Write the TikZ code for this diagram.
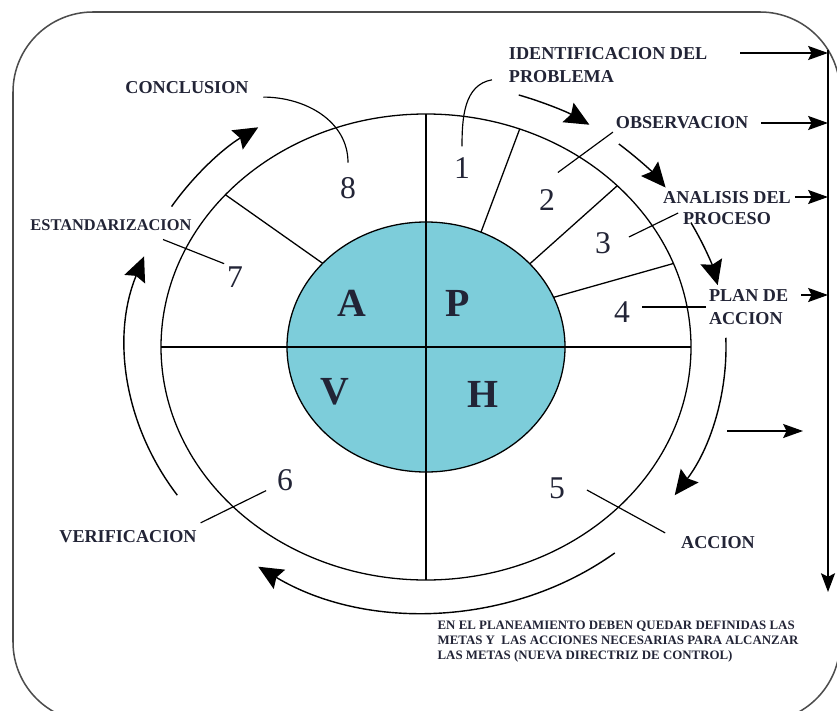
\documentclass[tikz,border=0pt]{standalone}
\usepackage{fontspec}
\setmainfont{Liberation Serif}
\usepackage{tikz}
\usetikzlibrary{arrows.meta,calc}

\definecolor{ink}{RGB}{34,36,54}
\definecolor{discfill}{RGB}{125,205,218}

\begin{document}
\begin{tikzpicture}[x=0.3mm,y=0.3mm,line width=1.1pt,
  lbl/.style={font=\bfseries\fontsize{15.5}{20}\selectfont,text=ink,inner sep=2pt},
  num/.style={font=\fontsize{27}{30}\selectfont,text=ink,inner sep=2pt},
  quad/.style={font=\bfseries\fontsize{34}{36}\selectfont,text=ink},
  leader/.style={line width=1pt},
  cyc/.style={line width=1.2pt,-{Stealth[length=21pt,width=19pt,inset=3pt]}},
  harrow/.style={line width=1.2pt,-{Stealth[length=17pt,width=12pt,inset=3pt]}},
  vdown/.style={line width=1.2pt,-{Stealth[length=16pt,width=12pt,inset=3pt]}}]

\useasboundingbox (0,0) rectangle (837,710);

% Frame
\draw[black!70,line width=1.3pt,rounded corners=24mm] (13,-12) rectangle (840,698);

% Wheel centre
\coordinate (C) at (426,363);

% Inner disc
\fill[discfill] (C) ellipse [x radius=139,y radius=125];

% Outer ring and cross
\draw (C) ellipse [x radius=265,y radius=233];
\draw ($(C)+(0,233)$) -- ($(C)+(0,-233)$);
\draw ($(C)+(-265,0)$) -- ($(C)+(265,0)$);
\draw (C) ellipse [x radius=139,y radius=125];

% Spokes
\draw ($(C)+(66.7:139 and 125)$) -- ($(C)+(69.3:265 and 233)$);
\draw ($(C)+(41.7:139 and 125)$) -- ($(C)+(43.8:265 and 233)$);
\draw ($(C)+(23.4:139 and 125)$) -- ($(C)+(21:265 and 233)$);
\draw ($(C)+(138:139 and 125)$) -- ($(C)+(139.2:265 and 233)$);

% Quadrant letters
\node[quad] (qa) at (352,407) {A};
\node[quad] (qp) at (458,407) {P};
\node[quad] (qv) at (335,318) {V};
\node[quad] (qh) at (483,316) {H};

% Step numbers
\node[num] (n1) at (462,542) {1};
\node[num] (n2) at (547,510) {2};
\node[num] (n3) at (603,467) {3};
\node[num] (n4) at (622,398) {4};
\node[num] (n5) at (557,222) {5};
\node[num] (n6) at (285,230) {6};
\node[num] (n7) at (235,433) {7};
\node[num] (n8) at (348,522) {8};

% Step labels
\node[lbl] (conclusion) at (187,622) {CONCLUSION};
\node[lbl,font=\bfseries\fontsize{14}{18}\selectfont] (estand) at (111,485) {ESTANDARIZACION};
\node[lbl,anchor=west,align=left] (ident) at (506,645) {IDENTIFICACION DEL\\PROBLEMA};
\node[lbl] (obs) at (682,587) {OBSERVACION};
\node[lbl,align=center,font=\bfseries\fontsize{15.5}{18.5}\selectfont] (analisis) at (727,502) {ANALISIS DEL\\PROCESO};
\node[lbl,anchor=west,align=left] (plan) at (706,403) {PLAN DE\\ACCION};
\node[lbl] (accion) at (718,167) {ACCION};
\node[lbl] (verif) at (128,173) {VERIFICACION};
\node[anchor=north west,align=left,inner sep=0pt,text=ink,
  font=\bfseries\fontsize{11}{12.8}\selectfont] (nota) at (437,90)
  {EN EL PLANEAMIENTO DEBEN QUEDAR DEFINIDAS LAS\\
   METAS Y\ \ LAS ACCIONES NECESARIAS PARA ALCANZAR\\
   LAS METAS (NUEVA DIRECTRIZ DE CONTROL)};

% Leaders
\draw[leader] ([xshift=10]conclusion.south east) to[out=0,in=90] ([yshift=10]n8.north);
\draw[leader] ($(ident.south west)+(-14,6)$) to[out=190,in=90] ([yshift=7]n1.north);
\draw[leader] (obs.south west) -- ([yshift=12]n2.north east);
\draw[leader] ($(analisis.west)+(18,-5)$) -- ($(n3.east)+(15,6)$);
\draw[leader,shorten >=8pt] (plan.west) -- (plan.west -| n4.east);
\draw[leader] ($(estand.south)+(52,-6)$) -- (n7.north west);
\draw[leader] ($(verif.north east)+(1,5)$) -- ($(n6.south west)+(-8,3)$);
\draw[leader] ($(n5.east)+(19,-2)$) -- ($(accion.north west)+(-13,1)$);

% Cycle arrows
\draw[cyc] ($(C)+(148:300 and 265)$) arc[start angle=148,end angle=124,x radius=300,y radius=265];
\draw[cyc] ($(C)+(72:300 and 265)$) arc[start angle=72,end angle=57,x radius=300,y radius=265];
\draw[cyc] ($(C)+(50:300 and 265)$) arc[start angle=50,end angle=37,x radius=300,y radius=265];
\draw[cyc] ($(C)+(28:300 and 265)$) arc[start angle=28,end angle=13.5,x radius=300,y radius=265];
\draw[cyc] ($(C)+(2:300 and 265)$) arc[start angle=2,end angle=-34,x radius=300,y radius=265];
\draw[cyc] ($(C)+(309:300 and 265)$) arc[start angle=309,end angle=236,x radius=300,y radius=265];
\draw[cyc] ($(C)+(214:300 and 265)$) arc[start angle=214,end angle=160,x radius=300,y radius=265];

% Control line on the right
\coordinate (rtop) at (828,660);
\coordinate (rbot) at (828,118);
\coordinate (t1) at (828,657);
\coordinate (t2) at (828,587);
\coordinate (t3) at (828,513);
\coordinate (t4) at (828,415);
\coordinate (h5a) at (727,279);
\coordinate (h5b) at (803,279);
\draw[vdown] (rtop) -- (rbot);
\draw[harrow] ($(ident.east)+(30,12)$) -- (t1);
\draw[harrow] ($(obs.east)+(10,0)$) -- (t2);
\draw[harrow] ($(analisis.east)+(1,11)$) -- (t3);
\draw[harrow] ($(plan.east)+(10,12)$) -- (t4);
\draw[harrow] (h5a) -- (h5b);

\end{tikzpicture}
\end{document}
